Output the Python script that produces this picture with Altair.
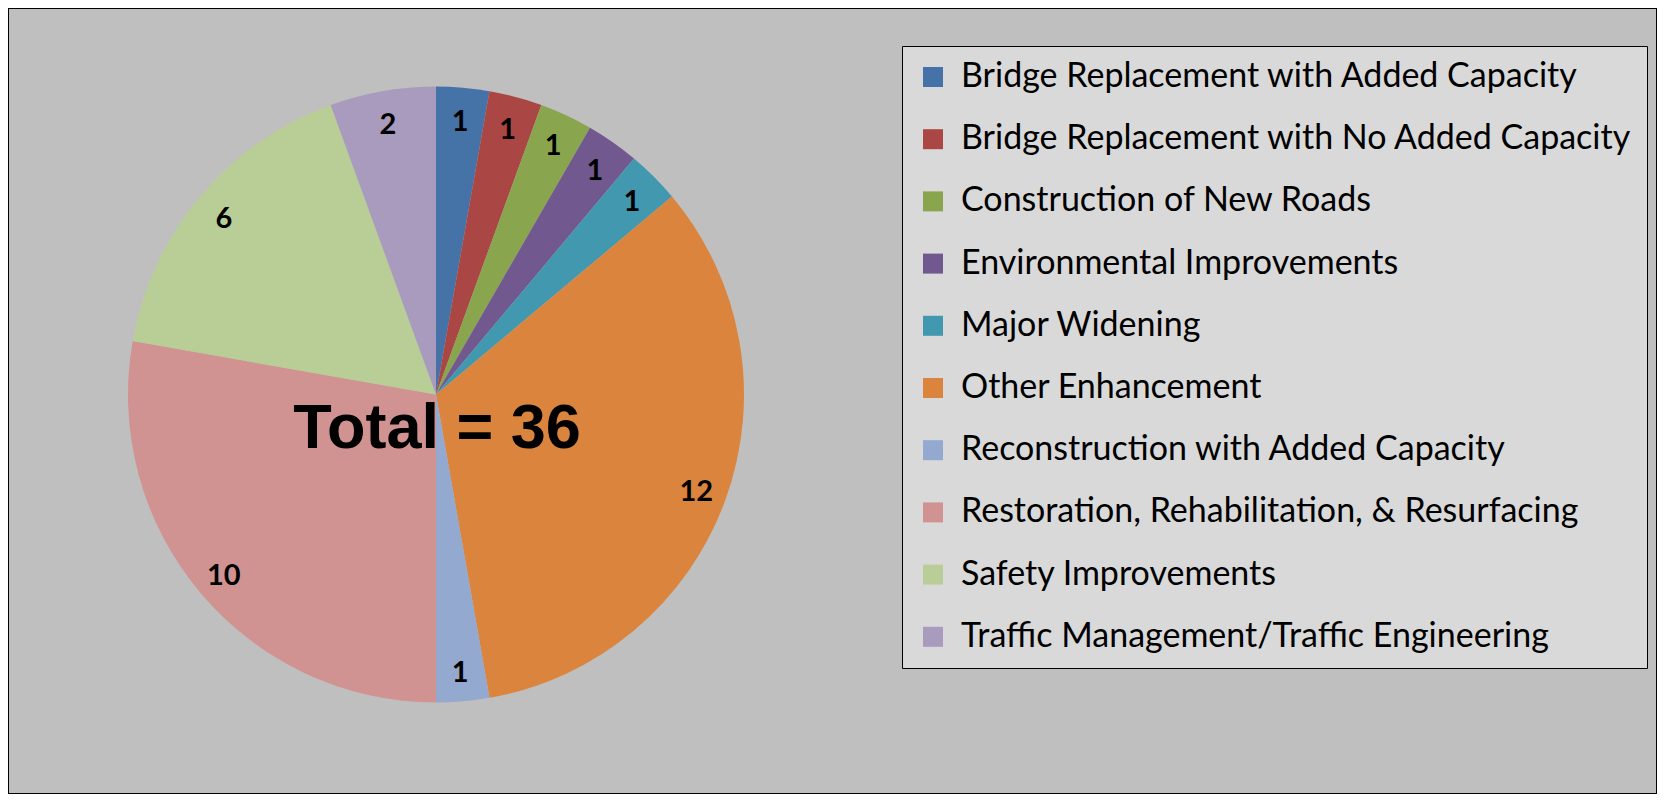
import altair as alt
import pandas as pd

categories = [
    "Bridge Replacement with Added Capacity",
    "Bridge Replacement with No Added Capacity",
    "Construction of New Roads",
    "Environmental Improvements",
    "Major Widening",
    "Other Enhancement",
    "Reconstruction with Added Capacity",
    "Restoration, Rehabilitation, & Resurfacing",
    "Safety Improvements",
    "Traffic Management/Traffic Engineering",
]
values = [1, 1, 1, 1, 1, 12, 1, 10, 6, 2]
colors = ["#4572A7", "#AA4643", "#89A54E", "#71588F", "#4198AF",
          "#DB843D", "#93A9CF", "#D19392", "#B9CD96", "#A99BBD"]
total_label = f"Total = {sum(values)}"

df = pd.DataFrame({"category": categories, "value": values, "idx": list(range(len(values)))})

CX, CY = 428, 386.5
R = 308

base = alt.Chart(df).encode(
    theta=alt.Theta("value:Q", stack=True),
    order=alt.Order("idx:Q"),
)

pie = base.mark_arc(outerRadius=R, stroke=None).encode(
    x=alt.value(CX),
    y=alt.value(CY),
    color=alt.Color(
        "category:N",
        scale=alt.Scale(domain=categories, range=colors),
        sort=categories,
        legend=alt.Legend(
            title=None,
            orient="none",
            legendX=894,
            legendY=38,
            symbolType="square",
            symbolSize=400,
            symbolStrokeWidth=0,
            labelFont="Lato",
            labelFontSize=34,
            labelColor="black",
            labelOffset=11,
            labelLimit=900,
            rowPadding=28.2,
            padding=14,
            fillColor="#D9D9D9",
            strokeColor="black",
        ),
    ),
)

labels = base.mark_text(
    radius=277, font="Lato", fontWeight="bold", fontSize=29, color="black",
    align="center", baseline="middle",
).encode(
    x=alt.value(CX),
    y=alt.value(CY + 3),
    text=alt.Text("value:Q"),
)

total = alt.Chart(pd.DataFrame({"t": [total_label]})).mark_text(
    font="Liberation Sans", fontWeight="bold", fontSize=63, color="black",
    align="center", baseline="alphabetic",
).encode(
    x=alt.value(CX + 1),
    y=alt.value(440),
    text="t:N",
)

chart = alt.layer(pie, labels, total).properties(
    width=1649, height=786, padding=0, background="#BFBFBF",
).configure_view(stroke="black", strokeWidth=2)

chart.save("out.html", embed_options={"renderer": "svg", "actions": False})
